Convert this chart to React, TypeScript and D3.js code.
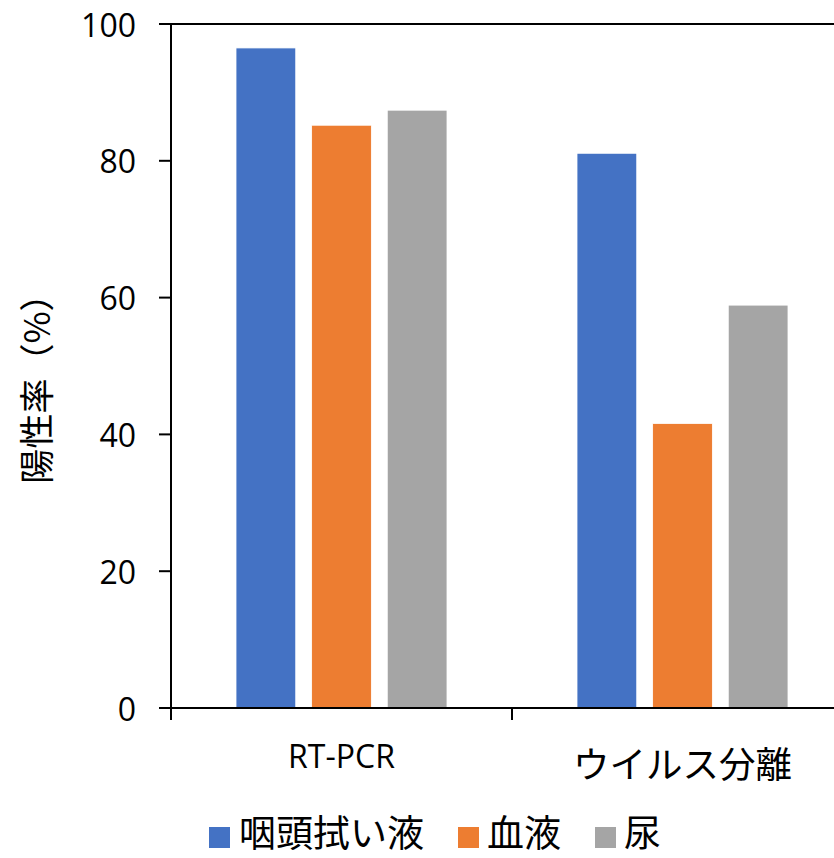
import React from "react";
import * as d3 from "d3";

const categories = ["RT-PCR", "ウイルス分離"];
const seriesNames = ["咽頭拭い液", "血液", "尿"];
const swabValues = [96.5, 81.1];
const bloodValues = [85.2, 41.6];
const urineValues = [87.4, 58.9];
const yTicks = [0, 20, 40, 60, 80, 100];
const colors = ["#4472C4", "#ED7D31", "#A5A5A5"];

const W = 834;
const H = 858;
const left = 171;
const top = 24;
const bottom = 708;
const right = 853;

const latin = "'Open Sans', 'Noto Sans', sans-serif";
const cjk = "'Noto Sans CJK JP', 'Noto Sans', sans-serif";

export default function App() {
  const series = [swabValues, bloodValues, urineValues];
  const y = d3.scaleLinear().domain([0, 100]).range([bottom, top]);
  const x0 = d3.scaleBand<string>().domain(categories).range([left, right]).paddingInner(0).paddingOuter(0);
  const inner = d3.scaleBand<string>().domain(seriesNames).range([65, 276]).paddingInner(0.21);

  const legendItems = [
    { sq: 209, tx: 239 },
    { sq: 458, tx: 487 },
    { sq: 595, tx: 624 },
  ];

  return (
    <svg width={W} height={H} style={{ position: "absolute", left: 0, top: 0, background: "#fff" }}>
      {categories.map((c, ci) =>
        seriesNames.map((s, si) => {
          const v = series[si][ci];
          const bx = (x0(c) as number) + (inner(s) as number);
          return (
            <rect
              key={c + s}
              x={bx}
              y={y(v)}
              width={inner.bandwidth()}
              height={bottom - y(v)}
              fill={colors[si]}
              stroke="#ffffff"
              strokeWidth={0.8}
            />
          );
        })
      )}
      <line x1={159} x2={W} y1={y(100)} y2={y(100)} stroke="#000" strokeWidth={2} />
      <line x1={left} x2={left} y1={top} y2={bottom + 12} stroke="#000" strokeWidth={2} />
      {yTicks.map((t) => (
        <g key={t}>
          <line x1={159} x2={left} y1={y(t)} y2={y(t)} stroke="#000" strokeWidth={2} />
          <text
            x={136}
            y={y(t)}
            textAnchor="end"
            dominantBaseline="central"
            fontFamily={latin}
            fontSize={32}
            fill="#000"
          >
            {t}
          </text>
        </g>
      ))}
      <line x1={159} x2={W} y1={bottom} y2={bottom} stroke="#000" strokeWidth={2} />
      {[...categories.map((c) => x0(c) as number), right].map((tx, i) => (
        <line key={i} x1={tx} x2={tx} y1={bottom} y2={bottom + 12} stroke="#000" strokeWidth={2} />
      ))}
      {categories.map((c, i) => (
        <text
          key={c}
          x={(x0(c) as number) + x0.bandwidth() / 2}
          y={i === 0 ? 768 : 778}
          textAnchor="middle"
          fontFamily={i === 0 ? latin : cjk}
          fontSize={i === 0 ? 32 : 36.5}
          fill="#000"
        >
          {c}
        </text>
      ))}
      <text
        transform={`translate(50, 380) rotate(-90)`}
        textAnchor="middle"
        fontFamily={cjk}
        fontSize={35}
        fill="#000"
      >
        陽性率（%）
      </text>
      {seriesNames.map((s, i) => (
        <g key={s}>
          <rect x={legendItems[i].sq} y={827} width={21} height={21} fill={colors[i]} />
          <text x={legendItems[i].tx} y={847} fontFamily={cjk} fontSize={37} fill="#000">
            {s}
          </text>
        </g>
      ))}
    </svg>
  );
}
